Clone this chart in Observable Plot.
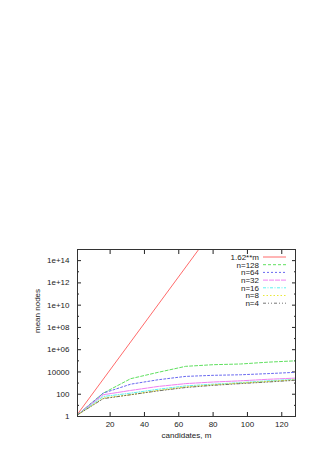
<!DOCTYPE html>
<html><head><meta charset="utf-8">
<script src="https://cdn.jsdelivr.net/npm/d3@7"></script>
<script src="https://cdn.jsdelivr.net/npm/@observablehq/plot@0.6"></script>
<style>body{margin:0;background:#fff}</style>
</head><body><div id="chart"></div>
<script>
// candidates m at which the mean node counts were sampled
const mValues = [1, 16, 32, 48, 64, 80, 96, 112, 128];
const n128 = [1.4, 125, 2500, 9300, 32000, 45000, 52000, 76000, 100000];
const n64  = [1.4, 125, 800, 2000, 4000, 5000, 5600, 7100, 9300];
const n32  = [1.4, 90, 220, 500, 900, 1250, 1600, 2200, 2800];
const n16  = [1.4, 63, 125, 280, 560, 800, 1100, 1600, 2200];
const n8   = [1.4, 45, 90, 220, 450, 700, 1000, 1400, 2000];
const n4   = [1.4, 40, 90, 200, 400, 630, 900, 1250, 1800];
const seriesNames = ["n=128", "n=64", "n=32", "n=16", "n=8", "n=4"];
const seriesValues = [n128, n64, n32, n16, n8, n4];
const refName = "1.62**m";
const refM = [1, 128];
const refValues = [1.62, 6.6e26];
const xTicks = [20, 40, 60, 80, 100, 120];
const yTicks = [1, 1e2, 1e4, 1e6, 1e8, 1e10, 1e12, 1e14];
const yTickLabels = ["1", "100", "10000", "1e+06", "1e+08", "1e+10", "1e+12", "1e+14"];
const yMinorTicks = [1e1, 1e3, 1e5, 1e7, 1e9, 1e11, 1e13];
const xLabel = "candidates, m";
const yLabel = "mean nodes";

const colors = ["#ff6a6a", "#5fe05f", "#6868f0", "#f080f0", "#5ff0f0", "#e8e83a", "#505050"];
const widths = [1, 1, 1, 1, 1, 1, 0.8];
const dashes = [null, "3,2", "2,2", "5,1", "3,1.5,1,1.5", "1.5,2", "3,2,1,2,1,2"];

const refRows = refM.map((m, i) => ({m, v: refValues[i]}));
const lineMarks = seriesNames.map((name, s) =>
  Plot.line(mValues.map((m, i) => ({m, v: seriesValues[s][i]})), {
    x: "m", y: "v", stroke: colors[s + 1], strokeWidth: widths[s + 1],
    strokeDasharray: dashes[s + 1]
  })
);

const legendNames = [refName, ...seriesNames];
const legend = (index, scales, values, dims) => {
  const g = d3.create("svg:g").attr("font-size", 8).attr("fill", "#222");
  const xr = dims.width - dims.marginRight;
  legendNames.forEach((name, i) => {
    const y = dims.marginTop + 8 + i * 7.7;
    g.append("text").attr("x", xr - 36).attr("y", y).attr("text-anchor", "end")
      .attr("dy", "0.35em").text(name);
    g.append("line").attr("x1", xr - 32).attr("x2", xr - 9).attr("y1", y).attr("y2", y)
      .attr("stroke", colors[i]).attr("stroke-width", widths[i])
      .attr("stroke-dasharray", dashes[i]);
  });
  return g.node();
};

const noText = () => "";
const chart = Plot.plot({
  width: 331, height: 468,
  marginTop: 249, marginBottom: 52, marginLeft: 77, marginRight: 36,
  style: {fontFamily: "'Liberation Sans', Arial, sans-serif", fontSize: "8px", color: "#222", background: "#fff"},
  x: {domain: [1, 128]},
  y: {type: "log", domain: [1, 1e15]},
  marks: [
    Plot.axisX({anchor: "bottom", ticks: xTicks, tickSize: 0, tickPadding: 5, label: null}),
    Plot.axisX({anchor: "bottom", ticks: xTicks, tickSize: -4, tickFormat: noText, label: null}),
    Plot.axisX({anchor: "top", ticks: xTicks, tickSize: -4, tickFormat: noText, label: null}),
    Plot.axisY({anchor: "left", ticks: yTicks, tickSize: 0, tickPadding: 8, label: null,
      tickFormat: d => yTickLabels[yTicks.indexOf(d)]}),
    Plot.axisY({anchor: "left", ticks: yTicks, tickSize: -4, tickFormat: noText, label: null}),
    Plot.axisY({anchor: "left", ticks: yMinorTicks, tickSize: -2, tickFormat: noText, label: null}),
    Plot.axisY({anchor: "right", ticks: yTicks, tickSize: -4, tickFormat: noText, label: null}),
    Plot.axisY({anchor: "right", ticks: yMinorTicks, tickSize: -2, tickFormat: noText, label: null}),
    Plot.line(refRows, {x: "m", y: "v", stroke: colors[0], strokeWidth: 1, clip: true}),
    ...lineMarks,
    Plot.frame({stroke: "#333", strokeWidth: 1}),
    Plot.text([xLabel], {text: d => d, frameAnchor: "bottom", dy: 21, fill: "#222"}),
    Plot.text([yLabel], {text: d => d, frameAnchor: "left", dx: -40, rotate: -90, fill: "#222"}),
    legend
  ]
});
document.getElementById("chart").append(chart);
</script>
</body></html>
